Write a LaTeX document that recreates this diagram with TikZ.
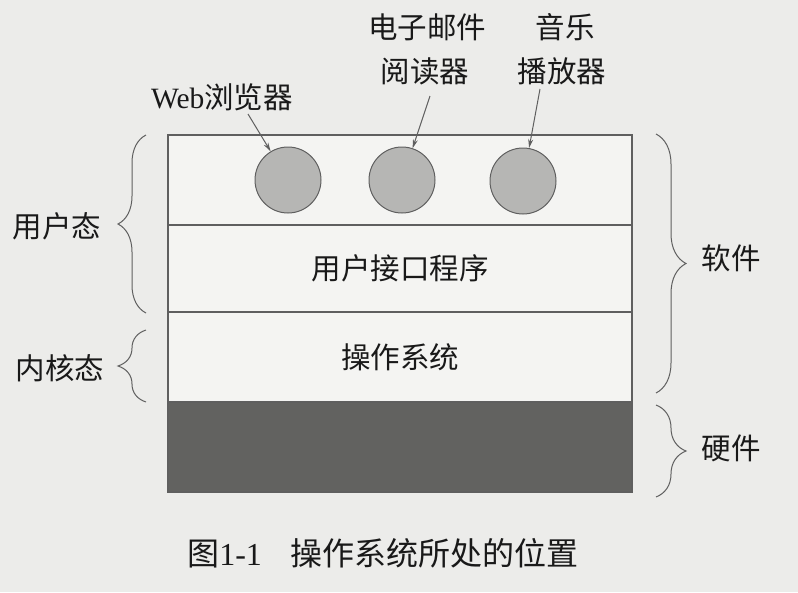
\documentclass[tikz,border=0pt]{standalone}
\usepackage{fontspec}
\setmainfont{Liberation Serif}
\newfontfamily\cjk{Noto Sans CJK SC}
\usetikzlibrary{decorations.pathreplacing,arrows.meta}

\definecolor{paper}{RGB}{236,236,234}
\definecolor{inkline}{RGB}{95,95,95}
\definecolor{appfill}{RGB}{182,182,180}
\definecolor{hwfill}{RGB}{98,98,96}
\definecolor{inktext}{RGB}{25,25,25}

\tikzset{
  txt/.style={inner sep=0pt, text=inktext, font=\fontsize{29.5}{31}\selectfont\cjk},
  captxt/.style={txt, font=\fontsize{32}{34}\selectfont\cjk},
  layer/.style={draw=inkline, line width=1.1pt, minimum width=464pt, inner sep=0pt,
                fill=paper!60!white, text=inktext, font=\fontsize{29.5}{31}\selectfont\cjk},
  hwlayer/.style={layer, fill=hwfill},
  app/.style={circle, draw=inkline, line width=1pt, fill=appfill,
              minimum size=66pt, inner sep=0pt},
  ptr/.style={draw=inkline, line width=1pt, -{Stealth[length=9pt,width=5pt]}},
  lbrace/.style={draw=inkline, line width=1pt, decorate,
                 decoration={brace, amplitude=28pt}},
  rbrace/.style={draw=inkline, line width=1pt, decorate,
                 decoration={brace, amplitude=30pt}},
}

\begin{document}
\begin{tikzpicture}[x=1pt, y=-1pt]
  \fill[paper] (0,0) rectangle (798,592);
  \useasboundingbox (0,0) rectangle (798,592);

  % stacked layers
  \node[layer, minimum height=90pt] (apps) at (400,180) {};
  \node[layer, minimum height=87pt] (ui) at (400,268.5) {用户接口程序};
  \node[layer, minimum height=90pt] (os) at (400,357) {操作系统};
  \node[hwlayer, minimum height=90pt] (hw) at (400,447) {};

  % applications
  \node[app] (c1) at (288,180) {};
  \node[app] (c2) at (402,180) {};
  \node[app] (c3) at (523,181) {};

  \node[txt] (webl) at (222,97) {{\rmfamily Web}浏览器};
  \node[txt] (mail1) at (427,27) {电子邮件};
  \node[txt] (mail2) at (425,71) {阅读器};
  \node[txt] (mus1) at (565,27) {音乐};
  \node[txt] (mus2) at (562,71) {播放器};

  \coordinate (wtail) at (248,114);
  \coordinate (mtail) at (430,96);
  \coordinate (ptail) at (540,89);
  \draw[ptr] (wtail) -- (c1);
  \draw[ptr] (mtail) -- (c2);
  \draw[ptr] (ptail) -- (c3);

  % mode braces on the left
  \coordinate (ubot) at (146,313);
  \coordinate (utop) at (146,135);
  \coordinate (kbot) at (146,402);
  \coordinate (ktop) at (146,330);
  \draw[lbrace] (ubot) -- (utop);
  \draw[lbrace] (kbot) -- (ktop);
  \node[txt] (user) at (57,226) {用户态};
  \node[txt] (kern) at (60,368) {内核态};

  % software / hardware braces on the right
  \coordinate (stop) at (656,134);
  \coordinate (sbot) at (656,393);
  \coordinate (htop) at (656,405);
  \coordinate (hbot) at (656,497);
  \draw[rbrace] (stop) -- (sbot);
  \draw[rbrace] (htop) -- (hbot);
  \node[txt] (soft) at (731,258) {软件};
  \node[txt] (hard) at (731,448) {硬件};

  % caption
  \node[captxt] (cap) at (383,553) {图{\rmfamily 1-1}\hspace{0.9em}操作系统所处的位置};
\end{tikzpicture}
\end{document}
